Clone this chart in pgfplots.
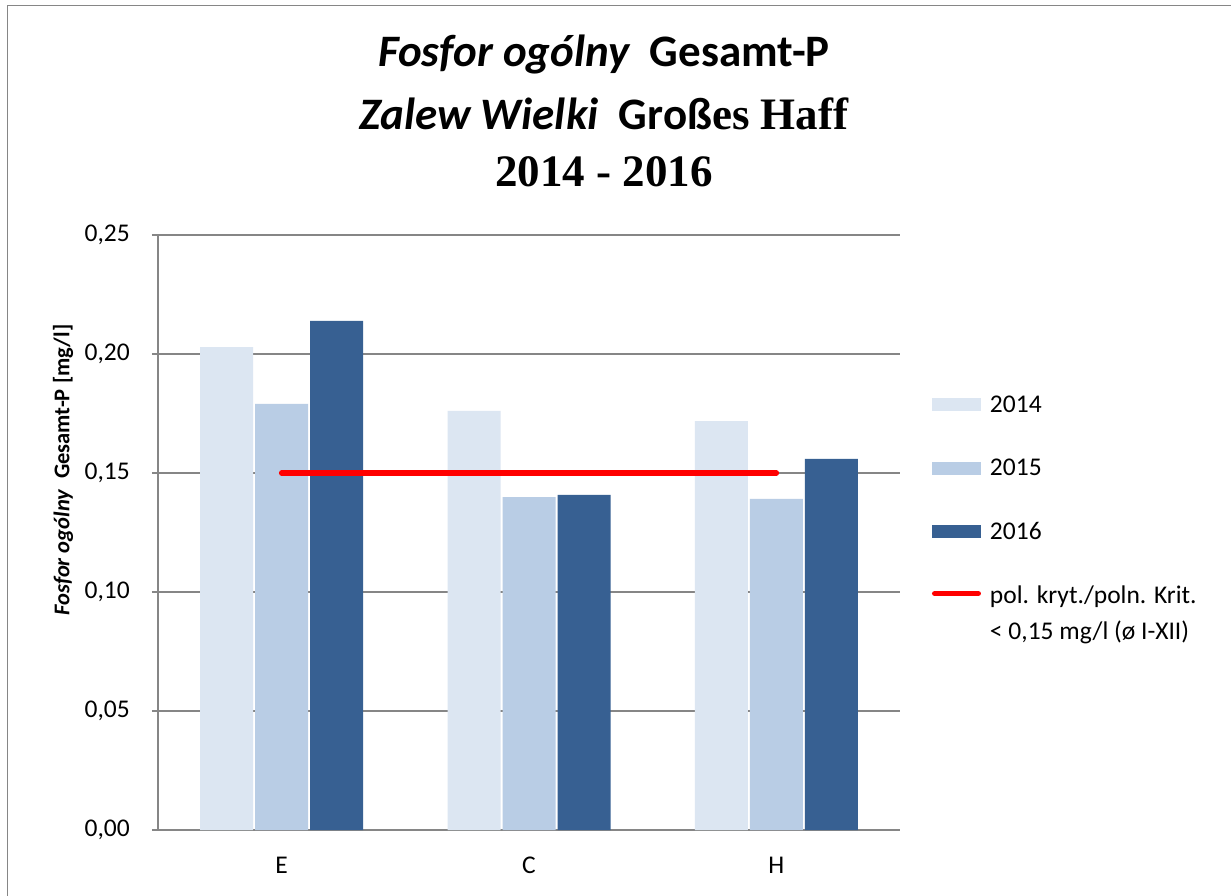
\documentclass[border=0pt]{standalone}
\usepackage{pgfplots}
\pgfplotsset{compat=1.18}
\usepackage{fontspec}
\setmainfont{Carlito}
\newfontfamily\timesf{Liberation Serif}
\definecolor{c14}{HTML}{DCE6F2}
\definecolor{c15}{HTML}{B9CDE5}
\definecolor{c16}{HTML}{376092}
\definecolor{gridc}{HTML}{868686}
\begin{document}
\begin{tikzpicture}
\useasboundingbox (0pt,0pt) rectangle (1231pt,895pt);
\fill[white] (0pt,0pt) rectangle (1231pt,895pt);
\draw[gridc, line width=1.5pt] (7.5pt,-10pt) -- (7.5pt,889.5pt) -- (1240pt,889.5pt);
% title
\node[anchor=base, inner sep=0pt] at (604pt,828pt) {\fontsize{45}{50}\selectfont\bfseries\itshape Fosfor ogólny\ \ \upshape Gesamt-P};
\node[anchor=base, inner sep=0pt] at (604pt,765pt) {\fontsize{45}{50}\selectfont\bfseries\itshape Zalew Wielki\ \ \upshape Groß{\timesf es Haff}};
\node[anchor=base, inner sep=0pt] at (604pt,708pt) {\fontsize{45}{50}\selectfont\bfseries\timesf 2014 - 2016};
\begin{axis}[
  at={(158pt,65pt)}, anchor=south west,
  scale only axis, width=742pt, height=595pt,
  xmin=-0.5, xmax=2.5, ymin=0, ymax=0.25,
  xtick={0,1,2}, xticklabels={E,C,H},
  ytick={0,0.05,0.1,0.15,0.2,0.25},
  /pgf/number format/assume math mode=true,
  yticklabel style={/pgf/number format/fixed, /pgf/number format/fixed zerofill, /pgf/number format/precision=2, /pgf/number format/use comma},
  tick label style={font=\fontsize{25.5}{30}\selectfont, inner sep=0pt},
  yticklabel style={xshift=-22pt},
  xticklabel style={yshift=-21pt},
  ymajorgrids, grid style={gridc, line width=1.5pt},
  axis lines*=left,
  axis line style={gridc, line width=1.5pt},
  tick align=outside, major tick length=6pt,
  xtick style={draw=none},
  ytick style={gridc, line width=1.5pt},
  ylabel={\textit{Fosfor ogólny}\ \ Gesamt-P [mg/l]},
  ylabel style={at={(axis description cs:-0.128,0.605)}, anchor=center, font=\fontsize{22.5}{26}\selectfont\bfseries},
  legend style={at={(axis description cs:1.0431,0.7311)}, anchor=north west, draw=none, fill=none,
    inner sep=0pt, outer sep=0pt, row sep=41.7pt, column sep=9pt,
    nodes={inner sep=0pt, font=\fontsize{25.5}{30}\selectfont, text height=17pt, text depth=5pt}},
  legend cell align=left,
]
\addplot[ybar, bar width=53pt, bar shift=-55pt, fill=c14, draw=none,
  legend image code/.code={\fill[c14] (0pt,-5pt) rectangle (49pt,8pt);}]
  coordinates {(0,0.2029) (1,0.1761) (2,0.1718)};
\addlegendentry{2014}
\addplot[ybar, bar width=53pt, bar shift=0pt, fill=c15, draw=none,
  legend image code/.code={\fill[c15] (0pt,-5pt) rectangle (49pt,8pt);}]
  coordinates {(0,0.1790) (1,0.1399) (2,0.1391)};
\addlegendentry{2015}
\addplot[ybar, bar width=53pt, bar shift=55pt, fill=c16, draw=none,
  legend image code/.code={\fill[c16] (0pt,-5pt) rectangle (49pt,8pt);}]
  coordinates {(0,0.2139) (1,0.1408) (2,0.1559)};
\addlegendentry{2016}
\addplot[sharp plot, red, line width=5.5pt, line cap=round, mark=none,
  legend image code/.code={\draw[red, line width=5.5pt, line cap=round] (2.75pt,3.5pt) -- (46.25pt,3.5pt);}]
  coordinates {(0,0.15) (2,0.15)};
\addlegendentry{\begin{tabular}[t]{@{}l@{}}pol. kryt./poln. Krit.\\[6pt] {<} 0,15 mg/l (ø I-XII)\end{tabular}}
\end{axis}
\end{tikzpicture}
\end{document}
